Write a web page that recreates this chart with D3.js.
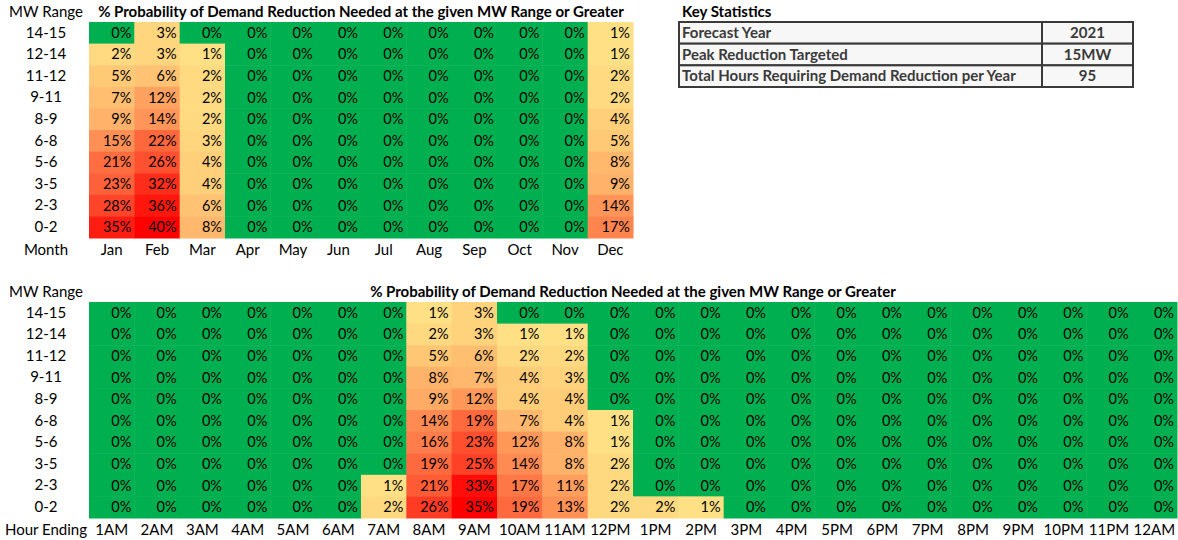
<!DOCTYPE html>
<html>
<head>
<meta charset="utf-8">
<script src="https://cdn.jsdelivr.net/npm/d3@7"></script>
<style>
  html, body { margin: 0; padding: 0; background: #fff; }
  svg { display: block; }
  text { font-family: "Lato", "Open Sans", sans-serif; }
</style>
</head>
<body>
<svg id="chart" width="1178" height="540"></svg>
<script>
// ---------- DATA ----------
const mwRanges = ["14-15", "12-14", "11-12", "9-11", "8-9", "6-8", "5-6", "3-5", "2-3", "0-2"];
const months = ["Jan", "Feb", "Mar", "Apr", "May", "Jun", "Jul", "Aug", "Sep", "Oct", "Nov", "Dec"];
const hours = ["1AM", "2AM", "3AM", "4AM", "5AM", "6AM", "7AM", "8AM", "9AM", "10AM", "11AM", "12PM",
               "1PM", "2PM", "3PM", "4PM", "5PM", "6PM", "7PM", "8PM", "9PM", "10PM", "11PM", "12AM"];

// % probability by month (rows follow mwRanges)
const monthValues = [
  [0, 3, 0, 0, 0, 0, 0, 0, 0, 0, 0, 1],
  [2, 3, 1, 0, 0, 0, 0, 0, 0, 0, 0, 1],
  [5, 6, 2, 0, 0, 0, 0, 0, 0, 0, 0, 2],
  [7, 12, 2, 0, 0, 0, 0, 0, 0, 0, 0, 2],
  [9, 14, 2, 0, 0, 0, 0, 0, 0, 0, 0, 4],
  [15, 22, 3, 0, 0, 0, 0, 0, 0, 0, 0, 5],
  [21, 26, 4, 0, 0, 0, 0, 0, 0, 0, 0, 8],
  [23, 32, 4, 0, 0, 0, 0, 0, 0, 0, 0, 9],
  [28, 36, 6, 0, 0, 0, 0, 0, 0, 0, 0, 14],
  [35, 40, 8, 0, 0, 0, 0, 0, 0, 0, 0, 17]
];

// % probability by hour ending (rows follow mwRanges)
const hourValues = [
  [0, 0, 0, 0, 0, 0, 0, 1, 3, 0, 0, 0, 0, 0, 0, 0, 0, 0, 0, 0, 0, 0, 0, 0],
  [0, 0, 0, 0, 0, 0, 0, 2, 3, 1, 1, 0, 0, 0, 0, 0, 0, 0, 0, 0, 0, 0, 0, 0],
  [0, 0, 0, 0, 0, 0, 0, 5, 6, 2, 2, 0, 0, 0, 0, 0, 0, 0, 0, 0, 0, 0, 0, 0],
  [0, 0, 0, 0, 0, 0, 0, 8, 7, 4, 3, 0, 0, 0, 0, 0, 0, 0, 0, 0, 0, 0, 0, 0],
  [0, 0, 0, 0, 0, 0, 0, 9, 12, 4, 4, 0, 0, 0, 0, 0, 0, 0, 0, 0, 0, 0, 0, 0],
  [0, 0, 0, 0, 0, 0, 0, 14, 19, 7, 4, 1, 0, 0, 0, 0, 0, 0, 0, 0, 0, 0, 0, 0],
  [0, 0, 0, 0, 0, 0, 0, 16, 23, 12, 8, 1, 0, 0, 0, 0, 0, 0, 0, 0, 0, 0, 0, 0],
  [0, 0, 0, 0, 0, 0, 0, 19, 25, 14, 8, 2, 0, 0, 0, 0, 0, 0, 0, 0, 0, 0, 0, 0],
  [0, 0, 0, 0, 0, 0, 1, 21, 33, 17, 11, 2, 0, 0, 0, 0, 0, 0, 0, 0, 0, 0, 0, 0],
  [0, 0, 0, 0, 0, 0, 2, 26, 35, 19, 13, 2, 2, 1, 0, 0, 0, 0, 0, 0, 0, 0, 0, 0]
];

const titleText = "% Probability of Demand Reduction Needed at the given MW Range or Greater";
const statLabels = ["Forecast Year", "Peak Reduction Targeted", "Total Hours Requiring Demand Reduction per Year"];
const statValues = ["2021", "15MW", "95"];

// ---------- DRAW ----------
const svg = d3.select("#chart");
const GREEN = "#00B050";
const FS = 15;

function heatmap(opts) {
  const { cols, values, x0, x1, y0, y1, xTitle, titleY, xLabelY } = opts;
  const g = svg.append("g");
  const x = d3.scaleBand().domain(cols).range([x0, x1]).padding(0);
  const y = d3.scaleBand().domain(mwRanges).range([y0, y1]).padding(0);
  const maxV = d3.max(values.flat());
  const color = d3.scaleLinear().domain([1, maxV]).range(["#FFE084", "#FF0000"]).clamp(true);

  const cells = [];
  values.forEach((row, ri) => row.forEach((v, ci) => cells.push({ r: mwRanges[ri], c: cols[ci], v })));

  g.selectAll("rect.cell").data(cells).join("rect")
    .attr("class", "cell")
    .attr("x", d => x(d.c))
    .attr("y", d => y(d.r))
    .attr("width", x.bandwidth() + 0.5)
    .attr("height", y.bandwidth() + 0.5)
    .attr("fill", d => d.v === 0 ? GREEN : color(d.v));

  g.selectAll("text.val").data(cells).join("text")
    .attr("class", "val")
    .attr("x", d => x(d.c) + x.bandwidth() - 3)
    .attr("y", d => y(d.r) + y.bandwidth() / 2)
    .attr("dy", "0.35em")
    .attr("text-anchor", "end")
    .attr("font-size", 14.5)
    .attr("fill", "#000")
    .text(d => d.v + "%");

  // Row labels (left axis)
  const yAxis = d3.axisLeft(y).tickSize(0).tickPadding(0);
  const ya = g.append("g").attr("transform", `translate(46,0)`).call(yAxis);
  ya.select(".domain").remove();
  ya.selectAll("text").attr("text-anchor", "middle").attr("font-size", FS)
    .attr("font-family", "Lato, 'Open Sans', sans-serif").attr("fill", "#000");

  // Column labels (bottom axis)
  const xAxis = d3.axisBottom(x).tickSize(0).tickPadding(0);
  const xa = g.append("g").attr("transform", `translate(0,${xLabelY})`).call(xAxis);
  xa.select(".domain").remove();
  xa.selectAll("text").attr("dy", "0.35em").attr("font-size", FS)
    .attr("font-family", "Lato, 'Open Sans', sans-serif").attr("fill", "#000");

  g.append("text").attr("x", 46).attr("y", xLabelY).attr("dy", "0.35em")
    .attr("text-anchor", "middle").attr("font-size", FS).text(xTitle);
  g.append("text").attr("x", 46).attr("y", titleY).attr("dy", "0.35em")
    .attr("text-anchor", "middle").attr("font-size", FS).text("MW Range");
  g.append("text").attr("x", (x0 + x1) / 2).attr("y", titleY).attr("dy", "0.35em")
    .attr("text-anchor", "middle").attr("font-size", FS).attr("font-weight", "bold").text(titleText);
}

heatmap({ cols: months, values: monthValues, x0: 89, x1: 633, y0: 22, y1: 238,
          xTitle: "Month", titleY: 12, xLabelY: 250 });
heatmap({ cols: hours, values: hourValues, x0: 89, x1: 1177, y0: 302, y1: 518,
          xTitle: "Hour Ending", titleY: 292, xLabelY: 530 });

// Key statistics table
const ks = svg.append("g");
ks.append("text").attr("x", 682).attr("y", 12).attr("dy", "0.35em")
  .attr("font-size", FS).attr("font-weight", "bold").attr("fill", "#000").text("Key Statistics");
const ty = d3.scaleBand().domain(statLabels).range([22, 87]);
const tx0 = 679, txDiv = 1042, tx1 = 1133;
ks.selectAll("rect.row").data(statLabels).join("rect")
  .attr("x", tx0).attr("y", d => ty(d)).attr("width", tx1 - tx0).attr("height", ty.bandwidth())
  .attr("fill", "#F7F7F7").attr("stroke", "#3A3A3A").attr("stroke-width", 2);
ks.append("line").attr("x1", txDiv).attr("x2", txDiv).attr("y1", 22).attr("y2", 87)
  .attr("stroke", "#3A3A3A").attr("stroke-width", 2);
ks.selectAll("text.lab").data(statLabels).join("text")
  .attr("class", "lab").attr("x", tx0 + 3).attr("y", d => ty(d) + ty.bandwidth() / 2).attr("dy", "0.35em")
  .attr("font-size", FS).attr("font-weight", "bold").attr("fill", "#3A3A3A").text(d => d);
ks.selectAll("text.sv").data(statValues).join("text")
  .attr("class", "sv").attr("x", (txDiv + tx1) / 2).attr("y", (d, i) => ty(statLabels[i]) + ty.bandwidth() / 2)
  .attr("dy", "0.35em").attr("text-anchor", "middle")
  .attr("font-size", FS).attr("font-weight", "bold").attr("fill", "#3A3A3A").text(d => d);
</script>
</body>
</html>
